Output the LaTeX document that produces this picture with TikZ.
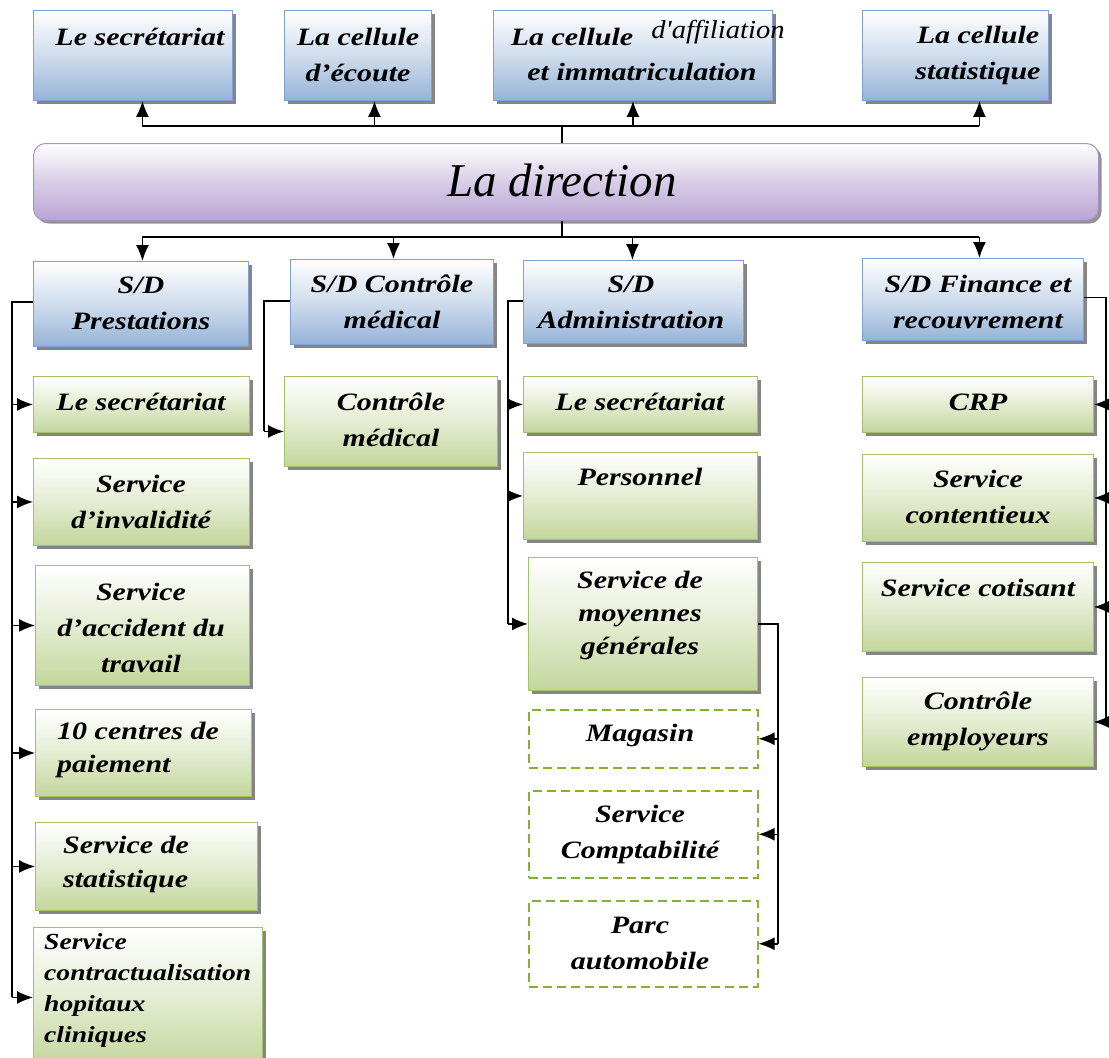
\documentclass[tikz,border=0pt]{standalone}
\usepackage{fontspec}
\setmainfont{Liberation Serif}
\newfontfamily\lblfont{Liberation Serif}[FakeStretch=1.2]
\newfontfamily\affilfont{Liberation Serif}[FakeStretch=1.1]
\usetikzlibrary{arrows.meta,shadows,calc}

\definecolor{bluebot}{RGB}{149,179,215}
\definecolor{blueline}{RGB}{126,160,210}
\definecolor{greenbot}{RGB}{195,214,155}
\definecolor{greenline}{RGB}{160,195,105}
\definecolor{dashgreen}{RGB}{130,178,50}
\definecolor{purplebot}{RGB}{184,164,212}
\definecolor{purpleline}{RGB}{170,145,200}
\definecolor{shade}{RGB}{120,120,120}

\tikzset{
  boxbase/.style={anchor=north west, inner sep=0pt, line width=0.9pt,
    drop shadow={shadow xshift=3.5pt, shadow yshift=-3.5pt, fill=shade, opacity=0.9}},
  bluebox/.style={boxbase, draw=blueline, top color=white, bottom color=bluebot,
    middle color=white!55!bluebot},
  greenbox/.style={boxbase, draw=greenline, top color=white, bottom color=greenbot,
    middle color=white!55!greenbot},
  dashbox/.style={anchor=north west, inner sep=0pt, draw=dashgreen, line width=1.5pt,
    dash pattern=on 9pt off 5pt, fill=white},
  dirbox/.style={anchor=north west, inner sep=0pt, rounded corners=12pt, line width=1pt,
    draw=purpleline, top color=white, bottom color=purplebot, middle color=white!45!purplebot,
    drop shadow={shadow xshift=3pt, shadow yshift=-3pt, fill=shade, opacity=0.8}},
  lbl/.style={font=\lblfont\fontsize{25}{36}\selectfont\bfseries\itshape, align=center, inner sep=0pt},
  lbll/.style={lbl, align=left, anchor=west},
  small/.style={font=\lblfont\fontsize{23}{31}\selectfont\bfseries\itshape, align=left, anchor=west, inner sep=0pt},
  conn/.style={line width=1.5pt, black},
  arr/.style={conn, -{Latex[length=16pt,width=13pt]}},
}

% box helper: name, style, x, y (top left), width, height
\newcommand\orgbox[6]{\node[#2, minimum width=#5pt, minimum height=#6pt] (#1) at (#3,#4) {};}

\begin{document}
\begin{tikzpicture}[x=1pt,y=-1pt]
\useasboundingbox (0,0) rectangle (1109,1058);

% ---- top cells ----
\orgbox{top1}{bluebox}{33}{10}{199}{90}
\orgbox{top2}{bluebox}{284}{10}{147}{90}
\orgbox{top3}{bluebox}{493}{10}{279}{90}
\orgbox{top4}{bluebox}{862}{10}{186}{90}
\node[lbl] (ttop1) at (140,37) {Le secrétariat};
\node[lbl] (ttop2) at (358,55) {La cellule\\d’écoute};
\node[lbl] (ttop3a) at (572,37) {La cellule};
\node[font=\affilfont\fontsize{26}{30}\selectfont\itshape, inner sep=0pt] (ttop3b) at (718,32) {d'affiliation};
\node[lbl] (ttop3c) at (642,72) {et immatriculation};
\node[lbl] (ttop4) at (978,55) {La cellule\\statistique};

% ---- direction ----
\orgbox{dir}{dirbox}{33}{143}{1065}{77}
\node[font=\fontsize{47}{50}\selectfont\itshape, inner sep=0pt] (tdir) at (562,180) {La direction};

% ---- sub-directions ----
\orgbox{s1}{bluebox}{33}{261}{215}{85}
\orgbox{s2}{bluebox}{290}{259}{203}{85}
\orgbox{s3}{bluebox}{523}{260}{220}{83}
\orgbox{s4}{bluebox}{862}{258}{221}{82}
\node[lbl] (ts1) at (141,303) {S/D\\Prestations};
\node[lbl] (ts2) at (392,302) {S/D Contrôle\\médical};
\node[lbl] (ts3) at (631,302) {S/D\\Administration};
\node[lbl] (ts4) at (978,302) {S/D Finance et\\recouvrement};

% ---- Prestations services ----
\orgbox{p1}{greenbox}{33}{376}{216}{56}
\orgbox{p2}{greenbox}{33}{458}{216}{87}
\orgbox{p3}{greenbox}{35}{565}{214}{120}
\orgbox{p4}{greenbox}{35}{709}{216}{87}
\orgbox{p5}{greenbox}{35}{822}{222}{88}
\orgbox{p6}{greenbox}{33}{927}{229}{140}
\node[lbl] (tp1) at (141,402) {Le secrétariat};
\node[lbl] (tp2) at (141,502) {Service\\d’invalidité};
\node[lbl] (tp3) at (141,628) {Service\\d’accident du\\travail};
\node[lbll, font=\lblfont\fontsize{25}{33}\selectfont\bfseries\itshape] (tp4) at (57,750) {10 centres de\\paiement};
\node[lbll, font=\lblfont\fontsize{25}{34}\selectfont\bfseries\itshape] (tp5) at (63,864) {Service de\\statistique};
\node[small] (tp6) at (44,990) {Service\\contractualisation\\hopitaux\\cliniques};

% ---- Contrôle médical ----
\orgbox{m1}{greenbox}{284}{376}{213}{90}
\node[lbl] (tm1) at (391,420) {Contrôle\\médical};

% ---- Administration services ----
\orgbox{a1}{greenbox}{523}{376}{234}{56}
\orgbox{a2}{greenbox}{523}{452}{234}{87}
\orgbox{a3}{greenbox}{528}{557}{229}{133}
\orgbox{d1}{dashbox}{528}{709}{229}{58}
\orgbox{d2}{dashbox}{528}{790}{229}{87}
\orgbox{d3}{dashbox}{528}{900}{229}{86}
\node[lbl] (ta1) at (640,402) {Le secrétariat};
\node[lbl] (ta2) at (640,477) {Personnel};
\node[lbl, font=\lblfont\fontsize{25}{33}\selectfont\bfseries\itshape] (ta3) at (640,615) {Service de\\moyennes\\générales};
\node[lbl] (td1) at (640,735) {Magasin};
\node[lbl] (td2) at (640,834) {Service\\Comptabilité};
\node[lbl] (td3) at (640,943) {Parc\\automobile};

% ---- Finance services ----
\orgbox{f1}{greenbox}{862}{376}{231}{56}
\orgbox{f2}{greenbox}{862}{454}{231}{87}
\orgbox{f3}{greenbox}{862}{562}{231}{89}
\orgbox{f4}{greenbox}{862}{677}{231}{89}
\node[lbl] (tf1) at (978,402) {CRP};
\node[lbl] (tf2) at (978,497) {Service\\contentieux};
\node[lbl] (tf3) at (978,588) {Service cotisant};
\node[lbl] (tf4) at (978,721) {Contrôle\\employeurs};

% ---- connectors: direction to top cells ----
\coordinate (tbus) at (562,126);
\coordinate (u1) at ([xshift=9.5pt]top1.south);
\coordinate (u2) at ([xshift=16.5pt]top2.south);
\coordinate (u3) at (top3.south);
\coordinate (u4) at ([xshift=24pt]top4.south);
\draw[conn] (dir.north -| tbus) -- (tbus);
\draw[conn] (u1 |- tbus) -- (u4 |- tbus);
\foreach \u in {u1,u2,u3,u4}
  \draw[arr] (\u |- tbus) -- (\u);

% ---- connectors: direction to sub-directions ----
\coordinate (bbus) at (562,237);
\coordinate (v1) at ([xshift=1.5pt]s1.north);
\coordinate (v2) at ([xshift=1.5pt]s2.north);
\coordinate (v3) at ([xshift=-1pt]s3.north);
\coordinate (v4) at ([xshift=6.5pt]s4.north);
\draw[conn] (dir.south -| bbus) -- (bbus);
\draw[conn] (v1 |- bbus) -- (v4 |- bbus);
\foreach \v in {v1,v2,v3,v4}
  \draw[arr] (\v |- bbus) -- (\v);

% ---- Prestations spine ----
\coordinate (pspine) at (12,0);
\draw[conn] ([yshift=2pt]s1.west) -| (pspine |- p6.west);
\foreach \p in {p1,p2,p3,p4,p5,p6}
  \draw[arr] (pspine |- \p.west) -- (\p.west);

% ---- Contrôle médical spine ----
\coordinate (mspine) at (264,0);
\coordinate (mt) at ([yshift=-10pt]m1.west);
\draw[conn] ([yshift=1pt]s2.west) -| (mspine |- mt);
\draw[arr] (mspine |- mt) -- (mt);

% ---- Administration spine ----
\coordinate (aspine) at (508,0);
\draw[conn] ([yshift=1pt]s3.west) -| (aspine |- a3.west);
\foreach \a in {a1,a2,a3}
  \draw[arr] (aspine |- \a.west) -- (\a.west);

% ---- moyennes générales to dashed units ----
\coordinate (dspine) at (778,0);
\draw[conn] (a3.east) -| (dspine |- d3.east);
\foreach \d in {d1,d2,d3}
  \draw[arr] (dspine |- \d.east) -- (\d.east);

% ---- Finance spine ----
\coordinate (fspine) at (1106,0);
\draw[conn] ([yshift=2pt]s4.east) -| (fspine |- f4.east);
\foreach \f in {f1,f2,f3,f4}
  \draw[arr] (fspine |- \f.east) -- (\f.east);
\end{tikzpicture}
\end{document}
